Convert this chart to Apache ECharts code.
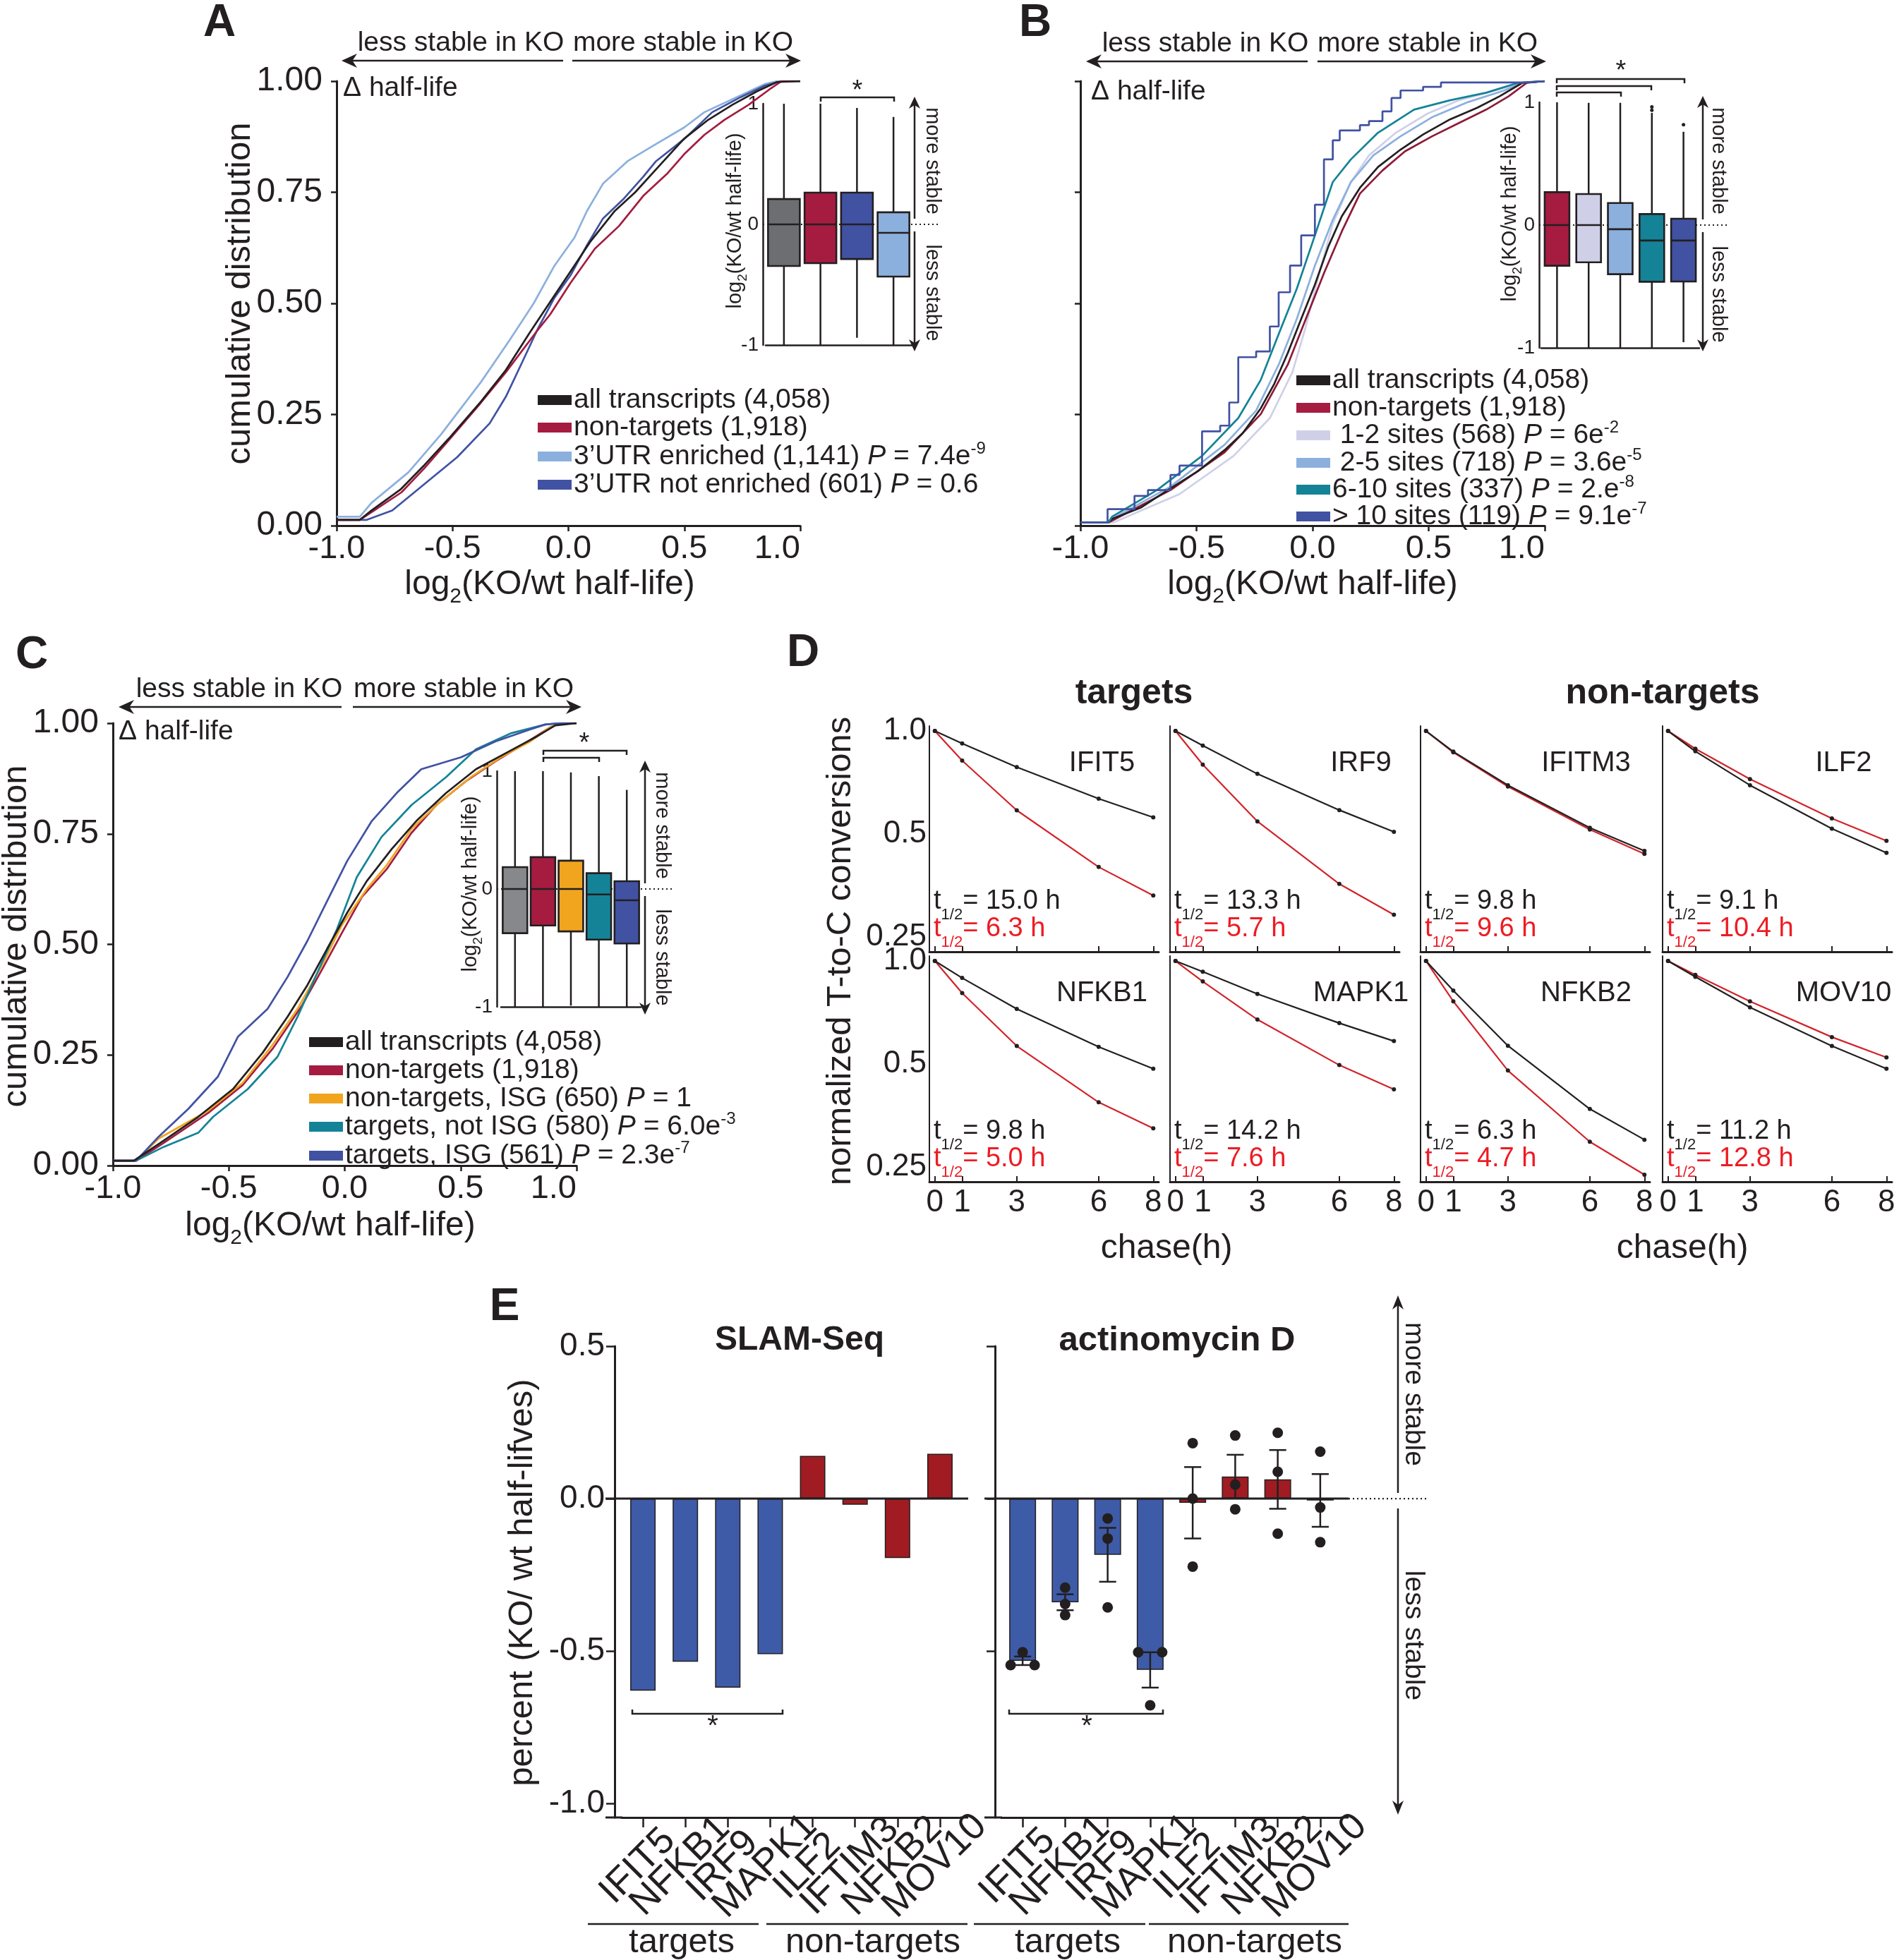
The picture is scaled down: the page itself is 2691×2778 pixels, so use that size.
<!DOCTYPE html>
<html>
<head>
<meta charset="utf-8">
<title>Half-life figure</title>
<script src="https://cdn.jsdelivr.net/npm/echarts@6.0.0/dist/echarts.min.js"></script>
<style>
html, body { margin:0; padding:0; background:#ffffff; }
#chart { width:2691px; height:2778px; }
</style>
</head>
<body>
<div id="chart"></div>
<script>
// ===================== DATA =====================
// CDF curves: [log2(KO/wt half-life), cumulative fraction]
// Panel A
const aAll = [[-1,0.013],[-0.9,0.013],[-0.85,0.034],[-0.725,0.081],[-0.62,0.137],[-0.516,0.196],[-0.376,0.28],[-0.27,0.35],[-0.166,0.435],[-0.079,0.503],[0.009,0.572],[0.096,0.64],[0.2,0.708],[0.288,0.75],[0.393,0.81],[0.498,0.87],[0.603,0.913],[0.708,0.947],[0.813,0.977],[0.9,0.998],[1,1]];
const aNon = [[-1,0.013],[-0.9,0.013],[-0.85,0.03],[-0.72,0.075],[-0.62,0.13],[-0.52,0.19],[-0.38,0.275],[-0.27,0.345],[-0.14,0.435],[-0.079,0.475],[0.009,0.546],[0.114,0.623],[0.218,0.674],[0.323,0.742],[0.428,0.793],[0.5,0.836],[0.586,0.879],[0.673,0.913],[0.778,0.947],[0.866,0.981],[0.92,1],[1,1]];
const aEnr = [[-1,0.02],[-0.9,0.02],[-0.85,0.051],[-0.69,0.12],[-0.55,0.205],[-0.376,0.324],[-0.253,0.418],[-0.15,0.5],[-0.06,0.585],[0.026,0.648],[0.08,0.708],[0.15,0.77],[0.255,0.82],[0.36,0.853],[0.5,0.896],[0.586,0.93],[0.726,0.964],[0.85,0.994],[0.9,1],[1,1]];
const aNotEnr = [[-1,0.013],[-0.87,0.013],[-0.76,0.034],[-0.62,0.094],[-0.48,0.154],[-0.34,0.23],[-0.27,0.29],[-0.2,0.367],[-0.131,0.444],[-0.061,0.512],[0.009,0.563],[0.08,0.631],[0.149,0.691],[0.236,0.734],[0.323,0.785],[0.376,0.819],[0.5,0.87],[0.62,0.93],[0.743,0.964],[0.848,0.99],[0.918,1],[1,1]];
// Panel B
const bAll = [[-1,0.007],[-0.88,0.007],[-0.864,0.015],[-0.738,0.041],[-0.612,0.084],[-0.495,0.122],[-0.379,0.17],[-0.301,0.208],[-0.223,0.264],[-0.165,0.319],[-0.107,0.388],[-0.049,0.465],[0.01,0.542],[0.068,0.628],[0.126,0.696],[0.204,0.76],[0.282,0.807],[0.379,0.846],[0.476,0.88],[0.592,0.914],[0.709,0.94],[0.806,0.966],[0.903,0.996],[1,1]];
const bNon = [[-1,0.007],[-0.88,0.007],[-0.864,0.011],[-0.612,0.08],[-0.379,0.165],[-0.223,0.251],[-0.107,0.362],[-0.029,0.465],[0.049,0.568],[0.126,0.662],[0.204,0.747],[0.301,0.799],[0.398,0.842],[0.515,0.876],[0.631,0.906],[0.748,0.936],[0.845,0.966],[0.922,0.996],[1,1]];
const bSites12 = [[-1,0.007],[-0.86,0.007],[-0.845,0.01],[-0.573,0.071],[-0.34,0.157],[-0.184,0.242],[-0.087,0.345],[-0.029,0.448],[0.029,0.568],[0.087,0.679],[0.165,0.773],[0.243,0.833],[0.359,0.884],[0.495,0.927],[0.631,0.957],[0.786,0.979],[0.903,0.996],[1,1]];
const bSites25 = [[-1,0.007],[-0.88,0.007],[-0.864,0.015],[-0.612,0.088],[-0.379,0.182],[-0.243,0.259],[-0.146,0.362],[-0.068,0.465],[0.01,0.585],[0.087,0.688],[0.165,0.773],[0.262,0.833],[0.379,0.876],[0.515,0.919],[0.67,0.953],[0.825,0.979],[0.903,0.996],[1,1]];
const bSites610 = [[-1,0.007],[-0.88,0.007],[-0.864,0.02],[-0.67,0.08],[-0.476,0.157],[-0.32,0.242],[-0.223,0.328],[-0.146,0.431],[-0.068,0.533],[0.01,0.653],[0.087,0.773],[0.165,0.824],[0.282,0.884],[0.437,0.936],[0.592,0.957],[0.748,0.974],[0.884,0.996],[1,1]];
const bSites10 = [[-1,0.007],[-0.883,0.007],[-0.883,0.037],[-0.767,0.067],[-0.709,0.08],[-0.612,0.114],[-0.573,0.135],[-0.476,0.212],[-0.398,0.225],[-0.359,0.277],[-0.32,0.379],[-0.243,0.392],[-0.184,0.448],[-0.146,0.525],[-0.097,0.585],[-0.049,0.653],[0.01,0.722],[0.049,0.824],[0.087,0.867],[0.117,0.889],[0.204,0.901],[0.243,0.91],[0.301,0.932],[0.34,0.962],[0.379,0.979],[0.476,0.987],[0.553,0.997],[0.903,1],[1,1]];
// Panel C
const cAll = [[-1,0.011],[-0.91,0.011],[-0.782,0.056],[-0.632,0.11],[-0.482,0.173],[-0.354,0.255],[-0.247,0.336],[-0.161,0.408],[-0.076,0.49],[0.01,0.571],[0.095,0.643],[0.202,0.715],[0.309,0.779],[0.437,0.842],[0.566,0.896],[0.694,0.932],[0.822,0.968],[0.908,0.995],[1,1]];
const cNon = [[-1,0.011],[-0.9,0.011],[-0.782,0.051],[-0.589,0.119],[-0.44,0.182],[-0.311,0.264],[-0.183,0.363],[-0.097,0.444],[-0.012,0.526],[0.074,0.607],[0.181,0.67],[0.288,0.752],[0.395,0.815],[0.523,0.869],[0.651,0.914],[0.78,0.955],[0.887,0.991],[0.929,1],[1,1]];
const cNonIsg = [[-1,0.011],[-0.9,0.011],[-0.803,0.061],[-0.589,0.124],[-0.44,0.187],[-0.311,0.273],[-0.204,0.354],[-0.097,0.454],[-0.012,0.544],[0.095,0.625],[0.181,0.679],[0.288,0.761],[0.416,0.824],[0.544,0.878],[0.673,0.923],[0.801,0.959],[0.887,0.991],[0.929,1],[1,1]];
const cTgtNotIsg = [[-1,0.011],[-0.9,0.011],[-0.782,0.042],[-0.632,0.074],[-0.568,0.11],[-0.418,0.173],[-0.29,0.246],[-0.204,0.336],[-0.119,0.435],[-0.033,0.535],[0.052,0.652],[0.159,0.743],[0.288,0.815],[0.437,0.878],[0.566,0.941],[0.716,0.977],[0.865,0.997],[0.93,1],[1,1]];
const cTgtIsg = [[-1,0.011],[-0.9,0.011],[-0.803,0.065],[-0.675,0.128],[-0.547,0.201],[-0.461,0.291],[-0.333,0.354],[-0.247,0.426],[-0.161,0.508],[-0.076,0.598],[0.01,0.688],[0.117,0.779],[0.224,0.842],[0.33,0.896],[0.502,0.923],[0.651,0.959],[0.801,0.986],[0.865,0.997],[0.93,1],[1,1]];

// Legends
const aLegendNames = ['all transcripts (4,058)', 'non-targets (1,918)', '3\u2019UTR enriched (1,141)', '3\u2019UTR not enriched (601)'];
const aLegendP = ['', '', '7.4e', '0.6'];
const aLegendExp = ['', '', '-9', ''];
const bLegendNames = ['all transcripts (4,058)', 'non-targets (1,918)', ' 1-2 sites (568)', ' 2-5 sites (718)', '6-10 sites (337)', '> 10 sites (119)'];
const bLegendP = ['', '', '6e', '3.6e', '2.e', '9.1e'];
const bLegendExp = ['', '', '-2', '-5', '-8', '-7'];
const cLegendNames = ['all transcripts (4,058)', 'non-targets (1,918)', 'non-targets, ISG (650)', 'targets, not ISG (580)', 'targets, ISG (561)'];
const cLegendP = ['', '', '1', '6.0e', '2.3e'];
const cLegendExp = ['', '', '', '-3', '-7'];

// Inset box plots: [min, Q1, median, Q3, max] of log2(KO/wt half-life)
const aBoxStats = [[-1, -0.345, 0, 0.21, 1], [-1, -0.322, 0, 0.263, 1], [-0.94, -0.287, 0, 0.263, 0.965], [-1, -0.433, -0.07, 0.1, 0.89]];
const bBoxStats = [[-1, -0.331, 0, 0.268, 1], [-1, -0.303, 0, 0.253, 0.996], [-1, -0.4, -0.034, 0.18, 0.996], [-1, -0.462, -0.126, 0.09, 0.914], [-0.954, -0.46, -0.126, 0.052, 0.76]];
const bBoxOutliers = [[3, 0.962], [3, 0.935], [4, 0.818]];
const cBoxStats = [[-1, -0.375, 0, 0.186, 1], [-1, -0.31, 0, 0.27, 1], [-0.99, -0.36, 0, 0.24, 0.99], [-1, -0.43, -0.046, 0.134, 0.958], [-1, -0.463, -0.096, 0.066, 0.842]];

// Panel D: normalized T-to-C conversions over chase time
const dTime = [0, 1, 3, 6, 8];
const dGenes = ['IFIT5', 'IRF9', 'IFITM3', 'ILF2', 'NFKB1', 'MAPK1', 'NFKB2', 'MOV10'];
const dWt = [[1, 0.919, 0.784, 0.634, 0.559], [1, 0.906, 0.749, 0.587, 0.507], [1, 0.870, 0.694, 0.521, 0.446], [1, 0.872, 0.694, 0.518, 0.440],
             [1, 0.892, 0.724, 0.561, 0.484], [1, 0.930, 0.801, 0.658, 0.583], [1, 0.819, 0.565, 0.369, 0.300], [1, 0.899, 0.732, 0.564, 0.484]];
const dKo = [[1, 0.819, 0.586, 0.400, 0.330], [1, 0.797, 0.544, 0.357, 0.290], [1, 0.866, 0.688, 0.515, 0.437], [1, 0.887, 0.723, 0.555, 0.477],
             [1, 0.806, 0.564, 0.386, 0.324], [1, 0.871, 0.674, 0.496, 0.421], [1, 0.762, 0.478, 0.296, 0.237], [1, 0.911, 0.762, 0.599, 0.522]];
const dHalfWt = ['15.0', '13.3', '9.8', '9.1', '9.8', '14.2', '6.3', '11.2'];
const dHalfKo = ['6.3', '5.7', '9.6', '10.4', '5.0', '7.6', '4.7', '12.8'];
const dYTicks = [0.25, 0.5, 1];

// Panel E
const eGenes = ['IFIT5', 'NFKB1', 'IRF9', 'MAPK1', 'ILF2', 'IFTIM3', 'NFKB2', 'MOV10'];
const eGroup = ['targets', 'targets', 'targets', 'targets', 'non-targets', 'non-targets', 'non-targets', 'non-targets'];
const eSlam = [-0.63, -0.535, -0.62, -0.51, 0.14, -0.02, -0.195, 0.147];
const eActDots = [[-0.546, -0.504, -0.546], [-0.292, -0.346, -0.382], [-0.065, -0.131, -0.357], [-0.504, -0.504, -0.678],
                  [0.182, 0.0, -0.223], [0.207, 0.046, -0.035], [0.216, 0.088, -0.115], [0.154, -0.029, -0.143]];
const eYTicks = [-1, -0.5, 0, 0.5];

// ===================== STYLE =====================
const INK = '#231f20';
const FONT = "'Liberation Sans', Arial, Helvetica, sans-serif";
const COL = {
  black: '#231f20', crimson: '#a51c40', crimsonDark: '#8e1a38', lblue: '#8cb0dd', dblue: '#4152a3',
  grayA: '#6d6e71', grayC: '#87888b', lav: '#cfd0e8', teal: '#148397', orange: '#f1a51f',
  eBlue: '#3e5ba8', eRed: '#a01c22', dRed: '#d2232a', dRedText: '#ed1c24'
};

const grids = [], xAxes = [], yAxes = [], series = [], G = [];

function addGrid(l, t, w, h) {
  grids.push({ left: l, top: t, width: w, height: h, containLabel: false, outerBoundsMode: 'none' });
  return grids.length - 1;
}

function cdfPanel(box, showYLabels, curves) {
  const gi = addGrid(box.l, box.t, box.r - box.l, box.b - box.t);
  const xi = xAxes.length, yi = yAxes.length;
  xAxes.push({ gridIndex: gi, type: 'value', min: -1, max: 1, interval: 0.5,
    axisLine: { show: true, onZero: false, lineStyle: { color: INK, width: 3 } },
    axisTick: { show: true, length: 8, lineStyle: { color: INK, width: 2.5 } },
    axisLabel: { show: true, margin: 10, fontSize: 47, fontFamily: FONT, color: INK, formatter: v => v.toFixed(1), alignMaxLabel: 'right' },
    splitLine: { show: false } });
  yAxes.push({ gridIndex: gi, type: 'value', min: 0, max: 1, interval: 0.25,
    axisLine: { show: true, onZero: false, lineStyle: { color: INK, width: 3 } },
    axisTick: { show: true, length: 8, lineStyle: { color: INK, width: 2.5 } },
    axisLabel: { show: showYLabels, margin: 20, fontSize: 48, fontFamily: FONT, color: INK, formatter: v => v.toFixed(2) },
    splitLine: { show: false } });
  curves.forEach(c => series.push({ type: 'line', xAxisIndex: xi, yAxisIndex: yi, data: c.data, step: c.step || false,
    showSymbol: false, symbol: 'none', silent: true, z: 2, lineStyle: { color: c.color, width: 2.7 } }));
  return { xi, yi };
}

function boxRender(colors, frac) {
  return function (params, api) {
    const i = api.value(0);
    const lo = api.coord([i, api.value(1)]);
    const q1 = api.coord([i, api.value(2)]);
    const md = api.coord([i, api.value(3)]);
    const q3 = api.coord([i, api.value(4)]);
    const hi = api.coord([i, api.value(5)]);
    const bw = api.size([1, 0])[0] * frac;
    const x = lo[0];
    return { type: 'group', children: [
      { type: 'line', shape: { x1: x, y1: hi[1], x2: x, y2: lo[1] }, style: { stroke: INK, lineWidth: 2.5 } },
      { type: 'rect', shape: { x: x - bw / 2, y: q3[1], width: bw, height: q1[1] - q3[1] }, style: { fill: colors[i], stroke: INK, lineWidth: 2.6 } },
      { type: 'line', shape: { x1: x - bw / 2, y1: md[1], x2: x + bw / 2, y2: md[1] }, style: { stroke: INK, lineWidth: 2.6 } }
    ] };
  };
}

function boxInset(g, stats, colors, outliers) {
  const gi = addGrid(g.l, g.t, g.w, g.h);
  const xi = xAxes.length, yi = yAxes.length;
  xAxes.push({ gridIndex: gi, type: 'category', data: stats.map((_, i) => i),
    axisLine: { show: true, onZero: false, lineStyle: { color: INK, width: 2.5 } }, axisTick: { show: false }, axisLabel: { show: false } });
  yAxes.push({ gridIndex: gi, type: 'value', min: -1, max: 1, offset: g.off,
    axisLine: { show: true, onZero: false, lineStyle: { color: INK, width: 2.5 } }, axisTick: { show: false }, splitLine: { show: false },
    axisLabel: { show: true, customValues: [-1, 0, 1], formatter: v => String(v), fontSize: 28, fontFamily: FONT, color: INK, margin: 6 } });
  series.push({ type: 'custom', xAxisIndex: xi, yAxisIndex: yi, z: 5, silent: true,
    data: stats.map((s, i) => [i].concat(s)), encode: { x: 0, y: [1, 2, 3, 4, 5] }, renderItem: boxRender(colors, g.frac) });
  if (outliers) series.push({ type: 'scatter', xAxisIndex: xi, yAxisIndex: yi, z: 5, silent: true, data: outliers, symbolSize: 5, itemStyle: { color: INK, opacity: 1 } });
  return { xi, yi };
}

// ---------- Panels A, B, C ----------
const A = cdfPanel({ l: 477, t: 115, r: 1134, b: 745 }, true, [
  { data: aEnr, color: COL.lblue }, { data: aNotEnr, color: COL.dblue }, { data: aNon, color: COL.crimson }, { data: aAll, color: COL.black }]);
const B = cdfPanel({ l: 1531, t: 115, r: 2189, b: 745 }, false, [
  { data: bSites12, color: COL.lav }, { data: bSites25, color: COL.lblue }, { data: bNon, color: COL.crimsonDark },
  { data: bAll, color: COL.black }, { data: bSites610, color: COL.teal }, { data: bSites10, color: COL.dblue, step: 'end' }]);
const C = cdfPanel({ l: 160, t: 1025, r: 817, b: 1652 }, true, [
  { data: cNon, color: COL.crimson }, { data: cNonIsg, color: COL.orange }, { data: cTgtNotIsg, color: COL.teal },
  { data: cTgtIsg, color: COL.dblue }, { data: cAll, color: COL.black }]);

const AI = boxInset({ l: 1085, t: 147, w: 207, h: 342, off: 4, frac: 0.87 }, aBoxStats, [COL.grayA, COL.crimson, COL.dblue, COL.lblue]);
const BI = boxInset({ l: 2184, t: 145, w: 224, h: 348, off: 3, frac: 0.78 }, bBoxStats, [COL.crimson, COL.lav, COL.lblue, COL.teal, COL.dblue], bBoxOutliers);
const CI = boxInset({ l: 710, t: 1093, w: 198, h: 334, off: 6, frac: 0.88 }, cBoxStats, [COL.grayC, COL.crimson, COL.orange, COL.teal, COL.dblue]);

// ---------- Panel D ----------
const dLefts = [1317, 1658, 2013, 2356];
const dTops = [1029, 1355];
const dW = 325, dH = 320;
function dYLabel(v) { if (v > 0.9) return '1.0'; if (v > 0.4) return '0.5'; return '0.25'; }
dGenes.forEach((g, k) => {
  const col = k % 4, row = Math.floor(k / 4);
  const gi = addGrid(dLefts[col], dTops[row], dW, dH);
  const xi = xAxes.length, yi = yAxes.length;
  xAxes.push({ gridIndex: gi, type: 'value', min: -0.2, max: 8.2,
    axisLine: { show: true, onZero: false, lineStyle: { color: INK, width: 3 } },
    axisTick: { show: true, inside: true, length: 8, customValues: dTime, lineStyle: { color: INK, width: 2 } },
    axisLabel: { show: row === 1, customValues: dTime, fontSize: 44, fontFamily: FONT, color: INK, margin: 8 },
    splitLine: { show: false } });
  yAxes.push({ gridIndex: gi, type: 'log', logBase: 2, min: 0.226, max: 1.034,
    axisLine: { show: true, onZero: false, lineStyle: { color: INK, width: 2 } },
    axisTick: { show: false }, splitLine: { show: false },
    axisLabel: { show: col === 0, customValues: dYTicks, formatter: v => dYLabel(v), fontSize: 44, fontFamily: FONT, color: INK, margin: 4 } });
  series.push({ type: 'line', xAxisIndex: xi, yAxisIndex: yi, silent: true, z: 2, data: dTime.map((t, j) => [t, dKo[k][j]]),
    symbol: 'circle', symbolSize: 6, showSymbol: true, lineStyle: { color: COL.dRed, width: 2.2 }, itemStyle: { color: INK } });
  series.push({ type: 'line', xAxisIndex: xi, yAxisIndex: yi, silent: true, z: 3, data: dTime.map((t, j) => [t, dWt[k][j]]),
    symbol: 'circle', symbolSize: 6, showSymbol: true, lineStyle: { color: INK, width: 2.2 }, itemStyle: { color: INK } });
});

// ---------- Panel E ----------
const eTop = 1908, eH = 668;
const eSlamGrid = addGrid(881, eTop, 481, eH);
const eActGrid = addGrid(1419, eTop, 482, eH);
function eAxes(gi, showY, ticks, off) {
  const xi = xAxes.length, yi = yAxes.length;
  xAxes.push({ gridIndex: gi, type: 'category', data: eGenes,
    axisLine: { show: true, onZero: false, lineStyle: { color: INK, width: 3 } },
    axisTick: { show: true, alignWithLabel: true, length: 14, lineStyle: { color: INK, width: 2.5 } },
    axisLabel: { interval: 0, rotate: 45, align: 'center', verticalAlign: 'middle', padding: [0, 20, 20, 0],
      fontSize: 54, fontFamily: FONT, color: INK, margin: 62 } });
  yAxes.push({ gridIndex: gi, type: 'value', min: -1.046, max: 0.5, offset: off,
    axisLine: { show: true, onZero: false, lineStyle: { color: INK, width: 3 } },
    axisTick: { show: true, length: 12, customValues: ticks, lineStyle: { color: INK, width: 2.5 } },
    axisLabel: { show: showY, customValues: ticks, formatter: v => v.toFixed(1), fontSize: 46, fontFamily: FONT, color: INK, margin: 14 },
    splitLine: { show: false } });
  return { xi, yi };
}
const ES = eAxes(eSlamGrid, true, eYTicks, 10);
const EA = eAxes(eActGrid, false, [-0.5, 0, 0.5], 9);
const eColor = i => (eGroup[i] === 'targets' ? COL.eBlue : COL.eRed);
series.push({ type: 'bar', xAxisIndex: ES.xi, yAxisIndex: ES.yi, barWidth: 36, silent: true, z: 2,
  data: eSlam.map((v, i) => ({ value: v, itemStyle: { color: eColor(i) } })), itemStyle: { borderColor: INK, borderWidth: 1.5 } });
const eMean = eActDots.map(d => d.reduce((a, b) => a + b, 0) / d.length);
const eSem = eActDots.map((d, i) => {
  const m = eMean[i];
  const sd = Math.sqrt(d.reduce((a, b) => a + (b - m) * (b - m), 0) / (d.length - 1));
  return sd / Math.sqrt(d.length);
});
series.push({ type: 'bar', xAxisIndex: EA.xi, yAxisIndex: EA.yi, barWidth: 38, silent: true, z: 2,
  data: eMean.map((v, i) => ({ value: v, itemStyle: { color: eColor(i) } })), itemStyle: { borderColor: INK, borderWidth: 1.5 } });
series.push({ type: 'custom', xAxisIndex: EA.xi, yAxisIndex: EA.yi, silent: true, z: 4,
  data: eMean.map((m, i) => [i, m - eSem[i], m + eSem[i]]), encode: { x: 0, y: [1, 2] },
  renderItem: function (params, api) {
    const i = api.value(0);
    const lo = api.coord([i, api.value(1)]), hi = api.coord([i, api.value(2)]);
    const cw = api.size([1, 0])[0] * 0.2;
    const s = { stroke: INK, lineWidth: 2.5 };
    return { type: 'group', children: [
      { type: 'line', shape: { x1: lo[0], y1: lo[1], x2: hi[0], y2: hi[1] }, style: s },
      { type: 'line', shape: { x1: lo[0] - cw, y1: lo[1], x2: lo[0] + cw, y2: lo[1] }, style: s },
      { type: 'line', shape: { x1: hi[0] - cw, y1: hi[1], x2: hi[0] + cw, y2: hi[1] }, style: s }
    ] };
  } });
// replicate dots; identical replicates are spread sideways so both stay visible
const eDotItems = [];
eActDots.forEach((d, i) => {
  d.forEach((v, j) => {
    const twin = d.findIndex((w, k) => k !== j && Math.abs(w - v) < 0.02);
    let slot = 0;
    if (twin >= 0) slot = twin > j ? -1 : 1;
    eDotItems.push({ value: [i, v], symbolOffset: [slot * 17, 0] });
  });
});
series.push({ type: 'scatter', xAxisIndex: EA.xi, yAxisIndex: EA.yi, silent: true, z: 6, data: eDotItems, symbolSize: 15, itemStyle: { color: INK, opacity: 1 } });

// ===================== RENDER =====================
const chart = echarts.init(document.getElementById('chart'), null, { renderer: 'canvas', width: 2691, height: 2778 });
chart.setOption({ animation: false, backgroundColor: '#ffffff', grid: grids, xAxis: xAxes, yAxis: yAxes, series: series });

// ===================== ANNOTATIONS =====================
function T(x, y, text, o) {
  o = o || {};
  const st = { text: text, fill: o.color || INK, fontSize: o.size || 39, fontFamily: FONT, fontWeight: o.bold ? 'bold' : 'normal',
    fontStyle: o.italic ? 'italic' : 'normal', align: o.align || 'center', verticalAlign: o.va || 'middle' };
  if (o.lh) st.lineHeight = o.lh;
  if (o.rich) st.rich = o.rich;
  G.push({ type: 'text', x: x, y: y, rotation: o.rot || 0, z: 10, silent: true, style: st });
}
function L(x1, y1, x2, y2, w, dash, z) {
  G.push({ type: 'line', z: z == null ? 10 : z, silent: true, shape: { x1, y1, x2, y2 }, style: { stroke: INK, lineWidth: w || 2.5, lineDash: dash || null } });
}
function poly(points, w) {
  G.push({ type: 'polyline', z: 10, silent: true, shape: { points }, style: { stroke: INK, lineWidth: w || 2.5, fill: null } });
}
function arrow(x1, y1, x2, y2, hl, hw, w) {
  const dx = x2 - x1, dy = y2 - y1, len = Math.hypot(dx, dy), ux = dx / len, uy = dy / len;
  const bx = x2 - ux * hl, by = y2 - uy * hl, px = -uy, py = ux;
  L(x1, y1, x2 - ux * hl * 0.6, y2 - uy * hl * 0.6, w || 2.5);
  G.push({ type: 'polygon', z: 10, silent: true, shape: { points: [[x2, y2], [bx + px * hw / 2, by + py * hw / 2], [x2 - ux * hl * 0.7, y2 - uy * hl * 0.7], [bx - px * hw / 2, by - py * hw / 2]] }, style: { fill: INK } });
}
const subRich = (size, color) => ({ s: { fontSize: size, fontFamily: FONT, fill: color || INK, lineHeight: size, verticalAlign: 'bottom' } });
const legendRich = { i: { fontSize: 39, fontFamily: FONT, fontStyle: 'italic', fill: INK }, p: { fontSize: 24, fontFamily: FONT, fill: INK, lineHeight: 24, verticalAlign: 'top' } };
function legend(x, ys, colors, names, ps, exps) {
  names.forEach((n, i) => {
    G.push({ type: 'rect', z: 10, silent: true, shape: { x: x, y: ys[i] - 7, width: 48, height: 14 }, style: { fill: colors[i] } });
    let s = n;
    if (ps[i]) s += ' {i|P} = ' + ps[i] + (exps[i] ? '{p|' + exps[i] + '}' : '');
    T(x + 51, ys[i], s, { align: 'left', size: 39, lh: 46, rich: legendRich });
  });
}
const log2Title = 'log{s|2}(KO/wt half-life)';

// panel letters
T(311, 33, 'A', { size: 64, bold: true });
T(1467, 33, 'B', { size: 64, bold: true });
T(45, 929, 'C', { size: 64, bold: true });
T(1138, 926, 'D', { size: 64, bold: true });
T(715, 1853, 'E', { size: 64, bold: true });

// top direction arrows of A, B, C
[[86, 484, 798, 811, 1135, 653, 968, 61], [87, 1539, 1853, 1867, 2191, 1708, 2023, 62], [1002, 168, 484, 500, 824, 339, 657, 977]].forEach(a => {
  arrow(a[2], a[0], a[1], a[0], 22, 20, 2.5);
  arrow(a[3], a[0], a[4], a[0], 22, 20, 2.5);
  T(a[5], a[7], 'less stable in KO', { size: 39 });
  T(a[6], a[7], 'more stable in KO', { size: 39 });
});
T(486, 125, '\u0394 half-life', { align: 'left', size: 39 });
T(1546, 130, '\u0394 half-life', { align: 'left', size: 39 });
T(168, 1037, '\u0394 half-life', { align: 'left', size: 39 });

// axis titles A-C
T(779, 829, log2Title, { size: 48, lh: 64, rich: subRich(30) });
T(1860, 829, log2Title, { size: 48, lh: 64, rich: subRich(30) });
T(468, 1738, log2Title, { size: 48, lh: 64, rich: subRich(30) });
T(340, 416, 'cumulative distribution', { size: 49, rot: Math.PI / 2 });
T(23, 1327, 'cumulative distribution', { size: 49, rot: Math.PI / 2 });

// legends
legend(762, [567, 606, 647, 687], [COL.black, COL.crimson, COL.lblue, COL.dblue], aLegendNames, aLegendP, aLegendExp);
legend(1837, [539, 578, 617, 656, 694, 732], [COL.black, COL.crimson, COL.lav, COL.lblue, COL.teal, COL.dblue], bLegendNames, bLegendP, bLegendExp);
legend(438, [1477, 1517, 1557, 1597, 1638], [COL.black, COL.crimson, COL.orange, COL.teal, COL.dblue], cLegendNames, cLegendP, cLegendExp);

// inset decorations
function insetDeco(ax, xAxis0, xDotEnd, ylab, arr, txt, brackets, star) {
  const y0 = chart.convertToPixel({ xAxisIndex: ax.xi, yAxisIndex: ax.yi }, [0, 0])[1];
  L(xAxis0, y0, xDotEnd, y0, 2.2, [2, 4], 1);
  T(ylab[0], ylab[1], 'log{s|2}(KO/wt half-life)', { size: 29, lh: 40, rot: Math.PI / 2, rich: subRich(19) });
  arrow(arr[0], y0 - 8, arr[0], arr[1], 17, 16, 2.5);
  arrow(arr[0], y0 + 10, arr[0], arr[2], 17, 16, 2.5);
  T(txt[0], txt[1], 'more stable', { size: 29, rot: -Math.PI / 2 });
  T(txt[0], txt[2], 'less stable', { size: 29, rot: -Math.PI / 2 });
  brackets.forEach(b => poly([[b[0], b[2] + 6], [b[0], b[2]], [b[1], b[2]], [b[1], b[2] + 6]], 2.5));
  T(star[0], star[1], '*', { size: 38 });
}
insetDeco(AI, 1081, 1332, [1042, 313], [1296, 137, 498], [1321, 228, 415], [[1163, 1267, 138]], [1215, 130]);
insetDeco(BI, 2181, 2447, [2140, 303], [2413, 136, 498], [2435, 228, 417], [[2206, 2297, 131], [2206, 2340, 122], [2206, 2387, 112]], [2297, 102]);
insetDeco(CI, 704, 952, [667, 1253], [914, 1078, 1438], [938, 1170, 1357], [[770, 849, 1074], [770, 888, 1064]], [828, 1055]);

// panel D texts
T(1607, 983, 'targets', { size: 50, bold: true });
T(2356, 983, 'non-targets', { size: 50, bold: true });
T(1191, 1348, 'normalized T-to-C conversions', { size: 49, rot: Math.PI / 2 });
T(1653, 1770, 'chase(h)', { size: 48 });
T(2384, 1770, 'chase(h)', { size: 48 });
const dNameOff = [82, 108, 72, 94];
dGenes.forEach((g, k) => {
  const col = k % 4, row = Math.floor(k / 4);
  const l = dLefts[col], t = dTops[row];
  T(l + dW / 2 + dNameOff[col], t + 53, g, { size: 40 });
  T(l + 6, t + 249, 't{s|1/2}= ' + dHalfWt[k] + ' h', { align: 'left', size: 38, lh: 60, rich: subRich(22, INK) });
  T(l + 6, t + 288, 't{s|1/2}= ' + dHalfKo[k] + ' h', { align: 'left', size: 38, lh: 60, color: COL.dRedText, rich: subRich(22, COL.dRedText) });
});

// panel E texts & lines
T(1133, 1900, 'SLAM-Seq', { size: 48, bold: true });
T(1668, 1900, 'actinomycin D', { size: 49, bold: true });
T(740, 2243, 'percent (KO/ wt half-lifves)', { size: 49, rot: Math.PI / 2 });
const ey0 = chart.convertToPixel({ xAxisIndex: ES.xi, yAxisIndex: ES.yi }, [0, 0])[1];
const eyB = eTop + eH;
// x-axis lines run a little past the category bands, as in the figure
L(858, eyB, 882, eyB, 3); L(1361, eyB, 1372, eyB, 3);
L(1395, eyB, 1420, eyB, 3); L(1900, eyB, 1911, eyB, 3);
L(858, ey0, 1372, ey0, 3);
L(1395, ey0, 1911, ey0, 3);
L(1911, ey0, 2025, ey0, 2.2, [2, 4]);
poly([[896, 2423], [896, 2429], [1109, 2429], [1109, 2423]], 2.5);
poly([[1430, 2423], [1430, 2429], [1648, 2429], [1648, 2423]], 2.5);
T(1010, 2448, '*', { size: 40 });
T(1540, 2448, '*', { size: 40 });
arrow(1981, ey0 - 8, 1981, 1836, 20, 16, 2.5);
arrow(1981, ey0 + 14, 1981, 2572, 20, 16, 2.5);
T(2003, 1976, 'more stable', { size: 39, rot: -Math.PI / 2 });
T(2003, 2318, 'less stable', { size: 39, rot: -Math.PI / 2 });
[[833, 1075, 966, 'targets'], [1086, 1371, 1237, 'non-targets'], [1380, 1623, 1513, 'targets'], [1628, 1911, 1778, 'non-targets']].forEach(g => {
  L(g[0], 2727, g[1], 2727, 2.5);
  T(g[2], 2753, g[3], { size: 49 });
});

chart.setOption({ graphic: G });
</script>
</body>
</html>
